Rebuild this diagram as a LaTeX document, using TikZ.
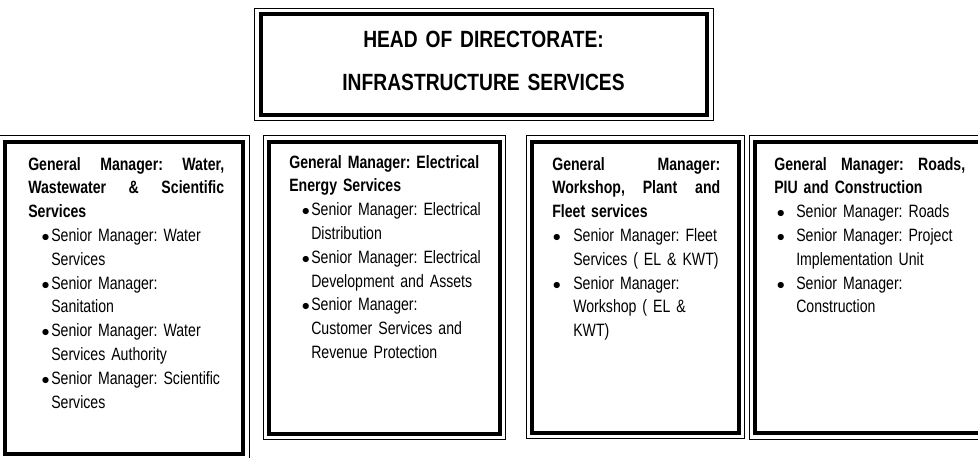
\documentclass[tikz,border=0pt]{standalone}
\usepackage{fontspec}
\setmainfont{Liberation Sans}[FakeStretch=0.79, WordSpace=0.8]
\newfontfamily\headfont{Liberation Sans}[FakeStretch=0.82, WordSpace=0.85]
\usetikzlibrary{fit}
\frenchspacing

\newlength{\bulpos}
\newlength{\bultext}
\newcommand{\bul}[1]{\par\hangindent=\bultext\hangafter=1\noindent\makebox[\bultext][l]{\hspace{\bulpos}{\fontsize{11.5}{11.5}\selectfont$\bullet$}}#1}
\newcommand{\jline}[2]{\makebox[#1][l]{#2}\newline}

\tikzset{
  frame/.style={draw, line width=3pt, inner sep=0pt},
  thinframe/.style={line width=0.6pt},
  headtext/.style={font=\headfont\fontsize{17.6}{32.25}\selectfont\bfseries, align=center, anchor=base, text width=300pt},
  gmtext/.style={font=\fontsize{13.4}{17.85}\selectfont, anchor=base west, inner sep=0pt, text width=#1,
    execute at begin node={\frenchspacing\rightskip=0pt plus 1fil}}
}

\begin{document}
\begin{tikzpicture}[x=0.75pt,y=-0.75pt]
            % Page
            \fill[white] (0,0) rectangle (978,457);
            \useasboundingbox (0,0) rectangle (978,457);

            % Draw frames
            \node[frame, fit={(260.5,14) (707,114.5)}] (fhead) {};
            \node[frame, fit={(4.5,141.7) (243.3,453.5)}] (fwater) {};
            \node[frame, fit={(269,141.7) (499.5,433.7)}] (felec) {};
            \node[frame, fit={(532,141.7) (738.7,432.5)}] (ffleet) {};
            \node[frame, fit={(755,141.7) (980,433)}] (froads) {};

            % Draw thin outer lines
            \foreach \f in {fhead,fwater,felec,ffleet,froads}
                \draw[thinframe] ([shift={(-4,-4)}]\f.north west) rectangle ([shift={(4,4)}]\f.south east);

            % Head
            \node[headtext] (head) at (483.5,47) {HEAD OF DIRECTORATE:\\ INFRASTRUCTURE SERVICES};

            % General managers
            \node[gmtext=160pt] (gmwater) at (28,170) {\setlength{\bulpos}{10pt}\setlength{\bultext}{17.25pt}%
                \textbf{\jline{147pt}{General\hfill Manager:\hfill Water,}\jline{147pt}{Wastewater\hfill \&\hfill Scientific}Services}
                \bul{Senior Manager: Water\newline Services}
                \bul{Senior Manager:\newline Sanitation}
                \bul{Senior Manager: Water\newline Services Authority}
                \bul{Senior Manager: Scientific\newline Services}\par};
            \node[gmtext=160pt] (gmelec) at (289,168) {\setlength{\bulpos}{9.5pt}\setlength{\bultext}{16.5pt}%
                \textbf{General Manager: Electrical\newline Energy Services}
                \bul{Senior Manager: Electrical\newline Distribution}
                \bul{Senior Manager: Electrical\newline Development and Assets}
                \bul{Senior Manager:\newline Customer Services and\newline Revenue Protection}\par};
            \node[gmtext=140pt] (gmfleet) at (552,170) {\setlength{\bulpos}{0.5pt}\setlength{\bultext}{15.75pt}%
                \textbf{\jline{126pt}{General\hfill Manager:}\jline{126pt}{Workshop,\hfill Plant\hfill and}Fleet services}
                \bul{Senior Manager: Fleet\newline Services ( EL \& KWT)}
                \bul{Senior Manager:\newline Workshop ( EL \&\newline KWT)}\par};
            \node[gmtext=160pt] (gmroads) at (774,170) {\setlength{\bulpos}{2pt}\setlength{\bultext}{16.5pt}%
                \textbf{\jline{143.25pt}{General\hfill Manager:\hfill Roads,}PIU and Construction}
                \bul{Senior Manager: Roads}
                \bul{Senior Manager: Project\newline Implementation Unit}
                \bul{Senior Manager:\newline Construction}\par};
        \end{tikzpicture}
\end{document}
